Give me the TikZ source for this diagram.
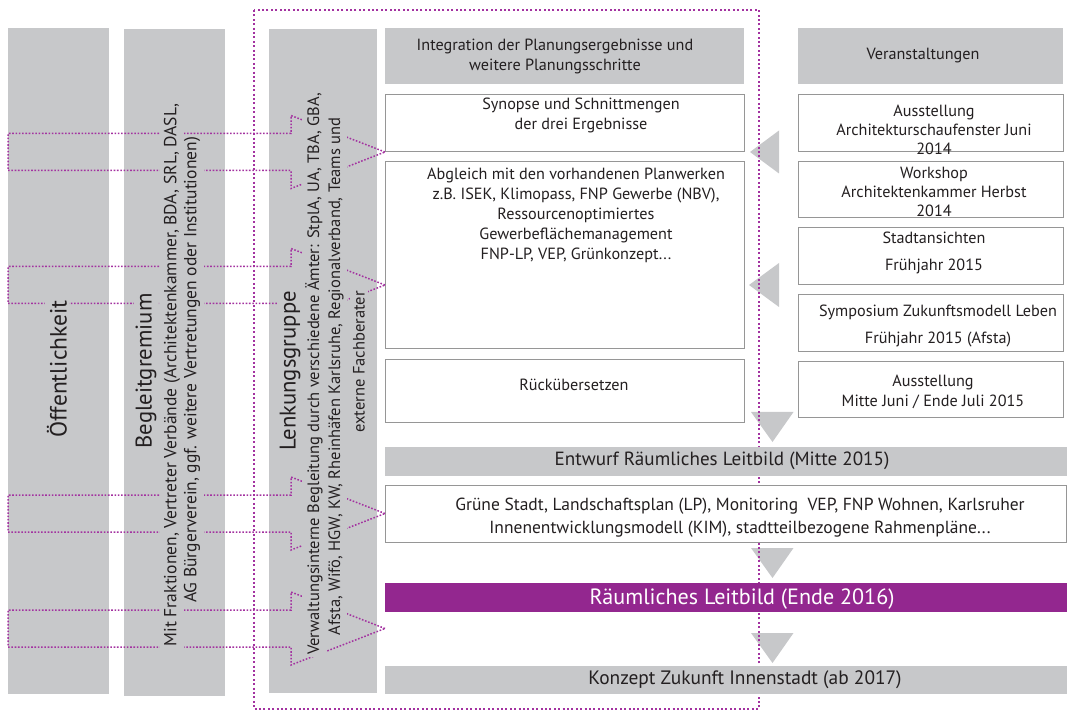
\documentclass[tikz,border=0pt]{standalone}
\usepackage{fontspec}
\setmainfont{PT Sans}
\usetikzlibrary{calc}
\definecolor{barGray}{RGB}{199,200,202}
\definecolor{boxEdge}{RGB}{150,150,150}
\definecolor{leitPurple}{RGB}{147,39,143}
\definecolor{dotPurple}{RGB}{163,50,160}
\definecolor{ink}{RGB}{35,31,32}
\tikzset{
  column/.style={fill=barGray, anchor=north west, inner sep=0pt, outer sep=0pt},
  headbar/.style={fill=barGray, anchor=north west, inner sep=0pt, outer sep=0pt},
  infobox/.style={draw=boxEdge, line width=1pt, fill=white, anchor=north west, inner sep=0pt, outer sep=0pt},
  txt/.style={text=ink, align=center, inner sep=0pt, font=\fontsize{16.2}{20}\selectfont},
  coltxt/.style={rotate=90, fill=barGray, text=ink, inner xsep=2pt, inner ysep=3.5pt, font=\fontsize{16.5}{20}\selectfont},
  coltitle/.style={coltxt, inner ysep=2pt, font=\fontsize{22.7}{26}\selectfont},
  linkdots/.style={draw=dotPurple, line width=1.5pt, dash pattern=on 1.6pt off 1.7pt},
  framedots/.style={draw=dotPurple, line width=2pt, dash pattern=on 2pt off 2.4pt},
  tipgray/.style={fill=barGray}
}
\begin{document}
\begin{tikzpicture}[x=1pt, y=-1pt]
  \useasboundingbox (0,0) rectangle (1069,711);

  % Spalten links
  \node[column, minimum width=101pt, minimum height=666pt] (oeff) at (8,28) {};
  \node[column, minimum width=101pt, minimum height=667pt] (begl) at (124,29) {};
  \node[column, minimum width=108pt, minimum height=664pt] (lenk) at (269,29) {};

  % Pfeile (grau)
  \fill[tipgray] (750,152) -- (779,130.5) -- (779,173.5) -- cycle;
  \fill[tipgray] (749,285) -- (779,263) -- (779,307) -- cycle;
  \foreach \ty in {412,548,633}
    \fill[tipgray] (751,\ty) -- (793.5,\ty) -- (772.5,\ty+30) -- cycle;

  % Rahmen
  \draw[framedots] (254,10) rectangle (759,709);

  % Mitte
  \node[headbar, minimum width=359pt, minimum height=56pt] (integ) at (385,28) {};
  \node[infobox, minimum width=359pt, minimum height=57pt] (syn) at (385,95) {};
  \node[infobox, minimum width=359pt, minimum height=187pt] (abg) at (385,162) {};
  \node[infobox, minimum width=359pt, minimum height=63pt] (rueck) at (385,360) {};

  % Veranstaltungen
  \node[headbar, minimum width=265pt, minimum height=56pt] (veran) at (798,28) {};
  \node[infobox, minimum width=265pt, minimum height=57pt] (aus1) at (798,95) {};
  \node[infobox, minimum width=265pt, minimum height=56pt] (work) at (798,162) {};
  \node[infobox, minimum width=265pt, minimum height=57pt] (stadt) at (798,228) {};
  \node[infobox, minimum width=265pt, minimum height=57pt] (symp) at (798,295) {};
  \node[infobox, minimum width=265pt, minimum height=56pt] (aus2) at (798,362) {};

  % Balken unten
  \node[headbar, minimum width=682pt, minimum height=29pt] (entw) at (385,447) {};
  \node[infobox, minimum width=681pt, minimum height=57pt] (gruen) at (385,485) {};
  \node[headbar, fill=leitPurple, minimum width=682pt, minimum height=29pt] (leit) at (385,583) {};
  \node[headbar, minimum width=682pt, minimum height=28pt] (konz) at (385,666) {};

  % gepunktete Blockpfeile
  \coordinate (tipA) at (syn.south west);
  \coordinate (tipB) at (abg.west |- stadt.south);
  \coordinate (tipC) at (gruen.west);
  \coordinate (tipD) at (385,628.5);
  \foreach \t in {tipA,tipB,tipC,tipD}
    \draw[linkdots] (\t) -- ++(-94,-36.5) -- ++(0,18) -- ++(-283,0) -- ++(0,37)
      -- ++(283,0) -- ++(0,18) -- cycle;

  % Texte
  \node[txt] (integT) at (555,56) {Integration der Planungsergebnisse und\\weitere Planungsschritte};
  \node[txt] (synT) at (581,115) {Synopse und Schnittmengen\\der drei Ergebnisse};
  \node[txt] (abgT) at (576,215) {Abgleich mit den vorhandenen Planwerken\\z.B. ISEK, Klimopass, FNP Gewerbe (NBV),\\Ressourcenoptimiertes\\Gewerbeflächemanagement\\FNP-LP, VEP, Grünkonzept...};
  \node[txt] (rueckT) at (574,385) {Rückübersetzen};
  \node[txt] (veranT) at (923,56) {Veranstaltungen};
  \node[txt, font=\fontsize{16.2}{19}\selectfont] (aus1T) at (934,130) {Ausstellung\\Architekturschaufenster Juni\\2014};
  \node[txt, font=\fontsize{16.2}{19}\selectfont] (workT) at (934,192) {Workshop\\Architektenkammer Herbst\\2014};
  \node[txt, font=\fontsize{16.2}{27}\selectfont] (stadtT) at (934,252.5) {Stadtansichten\\Frühjahr 2015};
  \node[txt, font=\fontsize{16.2}{27}\selectfont] (sympT) at (938,326.5) {Symposium Zukunftsmodell Leben\\Frühjahr 2015 (Afsta)};
  \node[txt] (aus2T) at (933,392) {Ausstellung\\Mitte Juni / Ende Juli 2015};
  \node[txt, font=\fontsize{19.1}{22}\selectfont] (entwT) at (722,461) {Entwurf Räumliches Leitbild (Mitte 2015)};
  \node[txt, font=\fontsize{17.5}{23}\selectfont] (gruenT) at (740,518) {Grüne Stadt, Landschaftsplan (LP), Monitoring~ VEP, FNP Wohnen, Karlsruher\\Innenentwicklungsmodell (KIM), stadtteilbezogene Rahmenpläne...};
  \node[txt, text=white, font=\fontsize{22.1}{26}\selectfont] (leitT) at (742,599) {Räumliches Leitbild (Ende 2016)};
  \node[txt, font=\fontsize{19.4}{22}\selectfont] (konzT) at (745,680) {Konzept Zukunft Innenstadt (ab 2017)};

  \node[coltitle, font=\fontsize{23.5}{26}\selectfont] (oeffT) at (57,369) {Öffentlichkeit};
  \node[coltitle] (beglT) at (146,371) {Begleitgremium};
  \node[coltxt, font=\fontsize{17.5}{20}\selectfont] (beglA) at (172,375) {Mit Fraktionen, Vertreter Verbände (Architektenkammer, BDA, SRL, DASL,};
  \node[coltxt, font=\fontsize{17.5}{20}\selectfont] (beglB) at (192,370) {AG Bürgerverein, ggf. weitere Vertretungen oder Institutionen)};
  \node[coltitle] (lenkT) at (290,371) {Lenkungsgruppe};
  \node[coltxt] (lenkA) at (314,374) {Verwaltungsinterne Begleitung durch verschiedene Ämter: StplA, UA, TBA, GBA,};
  \node[coltxt] (lenkB) at (336,376.5) {Afsta, Wifö, HGW, KW, Rheinhäfen Karlsruhe, Regionalverband, Teams und};
  \node[coltxt] (lenkC) at (359,362) {externe Fachberater};
\end{tikzpicture}
\end{document}
